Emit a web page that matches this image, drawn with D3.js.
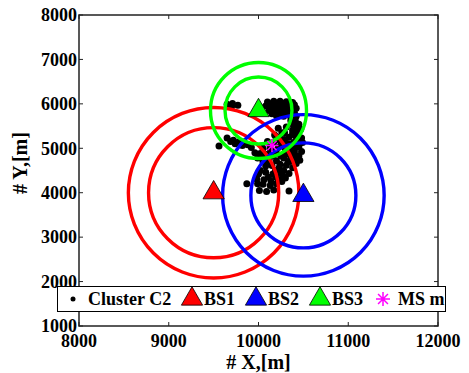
<!DOCTYPE html>
<html>
<head>
<meta charset="utf-8">
<script src="https://cdn.jsdelivr.net/npm/d3@7"></script>
<style>
  body { margin: 0; background: #fff; }
  text { font-family: "Liberation Serif", "Times New Roman", serif; font-weight: bold; }
</style>
</head>
<body>
<div id="chart"></div>
<script>
// cluster C2 points (metres)
const clusterX = [9650, 9710, 9770, 9700,
  10100, 10170, 10240, 10310, 10380, 10080, 10150, 10220, 10290, 10360, 10420,
  10120, 10190, 10260, 10330, 10400, 10200, 10280, 10360, 10420,
  10130, 10200, 10270, 10340, 10400, 10160, 10230, 10300, 10380, 10150, 10240, 10310, 10390,
  10410, 10450, 10470, 10440, 10480, 10490, 10450, 10480, 10450, 10460,
  10360, 10390, 10420, 10380, 10420, 10430, 10400, 10400, 10350,
  10220, 10310, 10380, 10290, 10240, 10340, 10400,
  10100, 10170, 10250, 10330, 10390, 10050, 10130, 10220, 10300, 10400,
  10020, 10090, 10200, 10300, 10380, 10120, 10200, 10280, 10360, 10420,
  10150, 10230, 10310, 10380, 10000, 10080, 10160, 10250, 10340,
  9980, 10060, 10140, 10220, 10300, 10050, 10130,
  10260, 10180, 10200, 10290, 10130, 10270, 10350, 10160, 10250, 10330,
  10060, 10160, 10240, 10100, 10330, 10190, 10280, 10110, 10190, 10270,
  10020, 9990, 10200, 10260,
  9920, 9960, 9990, 10050, 10080, 10010, 10090, 10170,
  9870, 10340,
  9650, 9720, 9780, 9820, 9740, 9560, 9690, 9840, 9880];
const clusterY = [5990, 6010, 5970, 5940,
  6040, 6060, 6060, 6050, 6030, 5950, 5960, 5950, 5950, 5940, 5900,
  5850, 5830, 5830, 5830, 5800, 5730, 5720, 5700, 5720,
  6000, 6010, 6010, 6000, 5980, 5900, 5890, 5890, 5870, 5780, 5780, 5770, 5750,
  5620, 5540, 5430, 5330, 5230, 5130, 5030, 4930, 4830, 4730,
  5620, 5500, 5450, 5330, 5180, 5080, 4920, 4780, 4700,
  5450, 5480, 5400, 5350, 5250, 5250, 5300,
  5150, 5140, 5130, 5100, 5130, 5000, 4980, 5020, 4960, 4990,
  4880, 4860, 4890, 4860, 4870, 4760, 4720, 4780, 4780, 4660,
  4610, 4560, 4620, 4560, 4420, 4460, 4420, 4440, 4430,
  4310, 4290, 4260, 4300, 4330, 4190, 4160,
  5350, 5300, 5200, 5200, 5060, 5050, 5020, 4930, 4830, 4930,
  4780, 4830, 4640, 4680, 4700, 4500, 4500, 4350, 4360, 4380,
  4500, 4200, 4200, 4250,
  5020, 4900, 4780, 4700, 4600, 4050, 4030, 4060,
  4200, 4040,
  5230, 5180, 5140, 5060, 5100, 5050, 5150, 5140, 5080];

// base stations and their range rings (radius in metres along X)
const stations = ["BS1", "BS2", "BS3"];
const stationX = [9500, 10500, 10000];
const stationY = [4000, 3940, 5850];
const radiusOuter = [950, 900, 535];
const radiusInner = [725, 585, 373];

// mobile station estimate
const msX = 10150, msY = 5060;

const xTicks = [8000, 9000, 10000, 11000, 12000];
const yTicks = [1000, 2000, 3000, 4000, 5000, 6000, 7000, 8000];

const colors = ["#ff0000", "#0000ff", "#00ff00"];

const margin = { top: 15, right: 31, bottom: 47, left: 79 },
      width = 469 - margin.left - margin.right,
      height = 373 - margin.top - margin.bottom;

const x = d3.scaleLinear().domain([8000, 12000]).range([0, width]);
const y = d3.scaleLinear().domain([1000, 8000]).range([height, 0]);

const svg = d3.select("#chart").append("svg")
    .attr("width", 469)
    .attr("height", 373);

const g = svg.append("g")
    .attr("transform", "translate(" + margin.left + "," + margin.top + ")");

// ticks (inward, all four sides)
const tl = 4;
g.selectAll(".xt").data(xTicks).enter().append("path")
    .attr("d", d => `M${x(d)},${height}v${-tl}M${x(d)},0v${tl}`)
    .attr("stroke", "#222").attr("stroke-width", 1);
g.selectAll(".yt").data(yTicks).enter().append("path")
    .attr("d", d => `M0,${y(d)}h${tl}M${width},${y(d)}h${-tl}`)
    .attr("stroke", "#222").attr("stroke-width", 1);

// cluster points
g.selectAll(".pt").data(clusterX).enter().append("circle")
    .attr("cx", d => x(d))
    .attr("cy", (d, i) => y(clusterY[i]))
    .attr("r", 3.5)
    .attr("fill", "#000");

// range rings
stations.forEach((s, i) => {
  [radiusOuter[i], radiusInner[i]].forEach(r => {
    g.append("circle")
      .attr("cx", x(stationX[i]))
      .attr("cy", y(stationY[i]))
      .attr("r", x(stationX[i] + r) - x(stationX[i]))
      .attr("fill", "none")
      .attr("stroke", colors[i])
      .attr("stroke-width", 3.4);
  });
});

const tri = d3.symbol().type(d3.symbolTriangle).size(195);

// station markers
stations.forEach((s, i) => {
  g.append("path")
    .attr("d", tri)
    .attr("transform", `translate(${x(stationX[i])},${y(stationY[i])})`)
    .attr("fill", colors[i])
    .attr("stroke", "#000")
    .attr("stroke-width", 0.8);
});

function asterisk(sel, cx, cy, r) {
  const d = r * Math.SQRT1_2;
  sel.append("path")
    .attr("d", `M${cx - r},${cy}h${2 * r}M${cx},${cy - r}v${2 * r}M${cx - d},${cy - d}l${2 * d},${2 * d}M${cx - d},${cy + d}l${2 * d},${-2 * d}`)
    .attr("stroke", "#ff00ff")
    .attr("stroke-width", 1.5)
    .attr("fill", "none");
}
asterisk(g, x(msX), y(msY), 6.5);

// frame
g.append("rect")
    .attr("width", width).attr("height", height)
    .attr("fill", "none").attr("stroke", "#222").attr("stroke-width", 1.5);

// tick labels
g.selectAll(".xl").data(xTicks).enter().append("text")
    .attr("x", d => x(d))
    .attr("y", height + 21)
    .attr("text-anchor", "middle")
    .attr("font-size", 18)
    .text(d => d);
g.selectAll(".yl").data(yTicks).enter().append("text")
    .attr("x", -2)
    .attr("y", d => y(d))
    .attr("dy", "0.35em")
    .attr("text-anchor", "end")
    .attr("font-size", 18)
    .text(d => d);

// axis titles
svg.append("text")
    .attr("x", margin.left + width / 2)
    .attr("y", 369)
    .attr("text-anchor", "middle")
    .attr("font-size", 20)
    .text("# X,[m]");
svg.append("text")
    .attr("transform", "translate(27,163) rotate(-90)")
    .attr("text-anchor", "middle")
    .attr("font-size", 20)
    .text("# Y,[m]");

// legend
const leg = svg.append("g");
leg.append("rect")
    .attr("x", 57.5).attr("y", 286.5)
    .attr("width", 388).attr("height", 25)
    .attr("fill", "#fff").attr("stroke", "#000").attr("stroke-width", 1);
const ly = 299;
leg.append("circle").attr("cx", 73).attr("cy", ly).attr("r", 2.5).attr("fill", "#000");
leg.append("text").attr("x", 88).attr("y", ly).attr("dy", "0.35em").attr("font-size", 18).text("Cluster C2");
const legTriX = [192, 256, 320];
stations.forEach((s, i) => {
  leg.append("path")
    .attr("d", tri)
    .attr("transform", `translate(${legTriX[i]},${ly})`)
    .attr("fill", colors[i])
    .attr("stroke", "#000")
    .attr("stroke-width", 0.8);
  leg.append("text").attr("x", legTriX[i] + 12).attr("y", ly).attr("dy", "0.35em")
    .attr("font-size", 18).text(s);
});
asterisk(leg, 383, ly, 7);
leg.append("text").attr("x", 398).attr("y", ly).attr("dy", "0.35em").attr("font-size", 18).text("MS m");
</script>
</body>
</html>
